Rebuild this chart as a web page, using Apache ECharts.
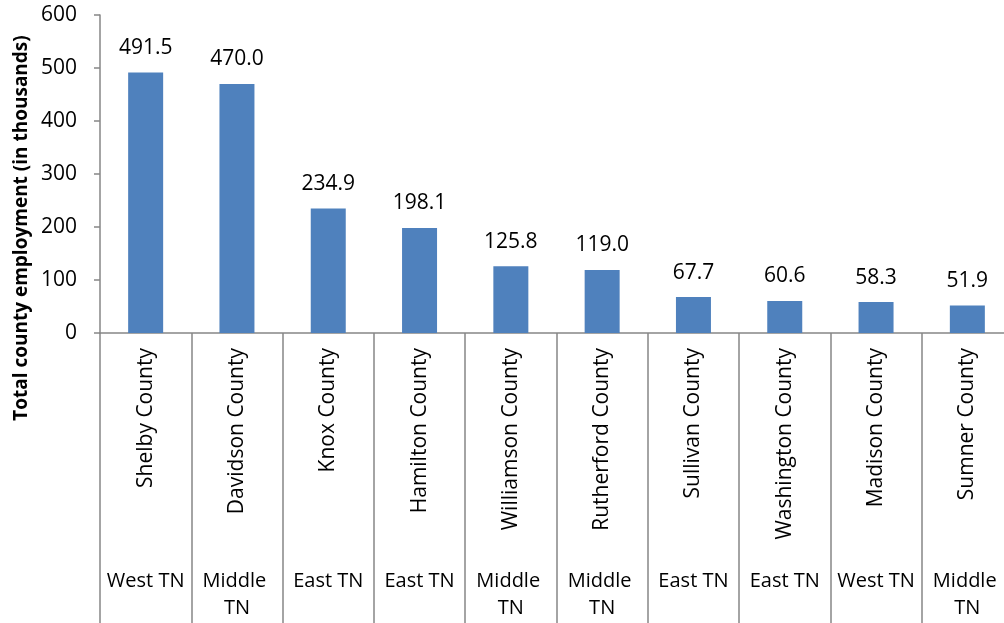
<!DOCTYPE html>
<html>
<head>
<meta charset="utf-8">
<script src="https://cdn.jsdelivr.net/npm/echarts@6/dist/echarts.min.js"></script>
<style>
  html, body { margin: 0; padding: 0; background: #fff; }
  #main { width: 1004px; height: 623px; }
</style>
</head>
<body>
<div id="main"></div>
<script>
// county data
var counties = ['Shelby County', 'Davidson County', 'Knox County', 'Hamilton County', 'Williamson County',
    'Rutherford County', 'Sullivan County', 'Washington County', 'Madison County', 'Sumner County'];
var regions = ['West TN', 'Middle TN', 'East TN', 'East TN', 'Middle TN',
    'Middle TN', 'East TN', 'East TN', 'West TN', 'Middle TN'];
var employment = [491.5, 470.0, 234.9, 198.1, 125.8, 119.0, 67.7, 60.6, 58.3, 51.9];
var yTicks = [0, 100, 200, 300, 400, 500, 600];

var font = 'Open Sans';
var gray = '#868686';

var myChart = echarts.init(document.getElementById('main'));
var option = {
    animation: false,
    textStyle: { fontFamily: font },
    grid: {
        left: 100,
        top: 15,
        width: 913,
        bottom: 290,
        outerBoundsMode: 'none'
    },
    graphic: [{
        type: 'text',
        x: 22,
        y: 228,
        rotation: Math.PI / 2,
        style: {
            text: 'Total county employment (in thousands)',
            font: 'bold 19px "Open Sans"',
            fill: '#000',
            align: 'center',
            verticalAlign: 'middle'
        }
    }],
    xAxis: [
        {
            type: 'category',
            data: counties,
            axisLine: { lineStyle: { color: gray, width: 1.5 } },
            axisTick: { show: true, length: 290, lineStyle: { color: gray, width: 1.5 } },
            axisLabel: {
                interval: 0,
                rotate: 90,
                margin: 15,
                fontSize: 21,
                color: '#000'
            }
        },
        {
            type: 'category',
            position: 'bottom',
            offset: 227,
            data: regions,
            axisLine: { show: false },
            axisTick: { show: false },
            axisLabel: {
                interval: 0,
                margin: 8,
                fontSize: 20,
                lineHeight: 27,
                color: '#000',
                width: 90,
                overflow: 'break'
            }
        }
    ],
    yAxis: {
        type: 'value',
        min: yTicks[0],
        max: yTicks[yTicks.length - 1],
        interval: 100,
        splitLine: { show: false },
        axisLine: { show: true, lineStyle: { color: gray, width: 1.5 } },
        axisTick: { show: true, inside: false, length: 6, lineStyle: { color: gray, width: 1.5 } },
        axisLabel: { fontSize: 21, color: '#000', margin: 23 }
    },
    series: [{
        type: 'bar',
        data: employment,
        barWidth: 35,
        itemStyle: { color: '#4F81BD' },
        label: {
            show: true,
            position: 'top',
            distance: 14,
            fontSize: 21,
            color: '#000',
            formatter: function (p) { return p.value.toFixed(1); }
        }
    }]
};
myChart.setOption(option);
</script>
</body>
</html>
